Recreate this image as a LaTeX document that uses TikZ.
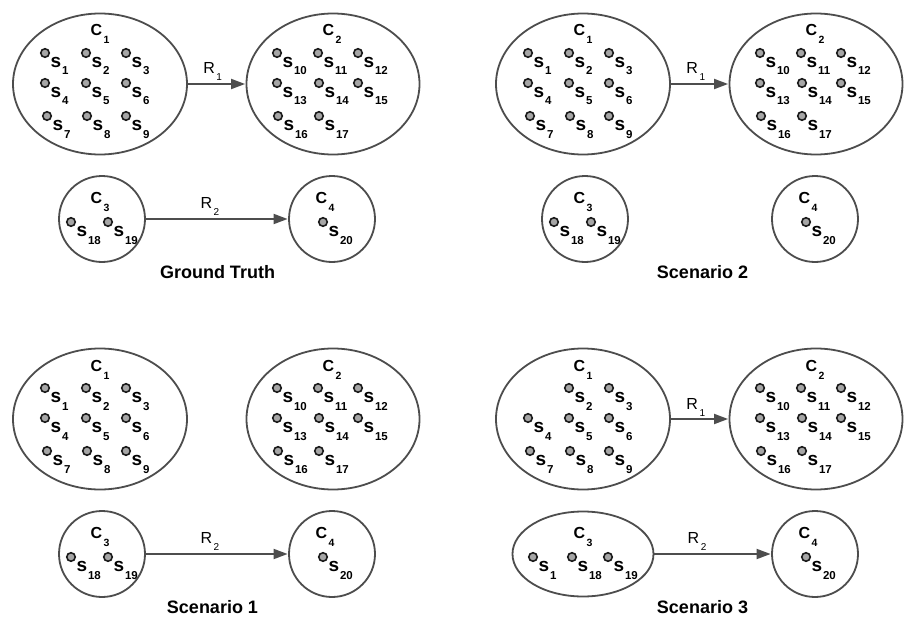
\documentclass[tikz,border=0pt]{standalone}
\usepackage{fontspec}
\setmainfont{Liberation Sans}
\usetikzlibrary{shapes.geometric,arrows.meta}
\definecolor{edgegray}{HTML}{4D4D4D}
\definecolor{dotfill}{HTML}{A6A6A6}
\definecolor{dotline}{HTML}{1A1A1A}
\newcommand{\ssubs}[2]{\textbf{#1}\hspace{0.8pt}\raisebox{-8pt}{\fontsize{11.5}{12}\selectfont\textbf{#2}}}
\newcommand{\csubs}[1]{\textbf{C}\hspace{1.5pt}\raisebox{-8pt}{\fontsize{10.5}{11}\selectfont\textbf{#1}}}
\newcommand{\rsubs}[1]{R\hspace{1.5pt}\raisebox{-7pt}{\fontsize{10}{10}\selectfont #1}}
\tikzset{
  clus/.style={ellipse,draw=edgegray,line width=1.8pt,inner sep=0pt},
  sdot/.style={circle,draw=dotline,fill=dotfill,line width=1.6pt,minimum size=8.5pt,inner sep=0pt},
  slab/.style={anchor=base west,inner sep=0pt,font=\fontsize{19}{19}\selectfont},
  clab/.style={anchor=base,inner sep=0pt,font=\fontsize{16}{16}\selectfont},
  rlab/.style={anchor=base,inner sep=0pt,font=\fontsize{16}{16}\selectfont},
  ttl/.style={anchor=base,inner sep=0pt,font=\fontsize{18}{18}\selectfont\bfseries},
  arr/.style={draw=edgegray,line width=1.8pt,-{Triangle[length=14pt,width=10pt]},shorten >=0.5pt}
}
% #1 name, #2 x, #3 y, #4 number
\newcommand{\sdotnode}[4]{%
  \node[sdot] (#1) at (#2,#3) {};
  \node[slab] (#1l) at ([xshift=5.5pt,yshift=-14pt]#1.center) {\ssubs{s}{#4}};}
% top row clusters: #1 prefix, #2 include s1 (1/0)
\newcommand{\toprow}[2]{%
  \node[clus,minimum width=174pt,minimum height=141pt] (#1c1) at (100,84) {};
  \node[clus,minimum width=173pt,minimum height=141pt] (#1c2) at (333,84) {};
  \node[clab] (#1c1l) at (100,36) {\csubs{1}};
  \node[clab] (#1c2l) at (332,36) {\csubs{2}};
  \ifnum#2=1 \sdotnode{#1s1}{45}{53}{1}\fi
  \sdotnode{#1s2}{86}{53}{2}
  \sdotnode{#1s3}{126}{53}{3}
  \sdotnode{#1s4}{45}{83}{4}
  \sdotnode{#1s5}{86}{83}{5}
  \sdotnode{#1s6}{126}{83}{6}
  \sdotnode{#1s7}{47}{116}{7}
  \sdotnode{#1s8}{87}{116}{8}
  \sdotnode{#1s9}{126}{116}{9}
  \sdotnode{#1s10}{277}{53}{10}
  \sdotnode{#1s11}{318}{53}{11}
  \sdotnode{#1s12}{358}{53}{12}
  \sdotnode{#1s13}{277}{83}{13}
  \sdotnode{#1s14}{319}{83}{14}
  \sdotnode{#1s15}{358}{83}{15}
  \sdotnode{#1s16}{278}{116}{16}
  \sdotnode{#1s17}{319}{116}{17}
}
\newcommand{\cfour}[1]{%
  \node[clus,circle,minimum size=86pt] (#1c4) at (332,219) {};
  \node[clab] (#1c4l) at (325,203) {\csubs{4}};
  \sdotnode{#1s20}{323}{222}{20}
}
\newcommand{\cthree}[1]{%
  \node[clus,circle,minimum size=86pt] (#1c3) at (102,219) {};
  \node[clab] (#1c3l) at (100,203) {\csubs{3}};
  \sdotnode{#1s18}{71}{222}{18}
  \sdotnode{#1s19}{108}{222}{19}
}
\begin{document}
\begin{tikzpicture}[x=1pt,y=-1pt]
\useasboundingbox[fill=white] (0,0) rectangle (911,618);

% Ground Truth
\begin{scope}
  \toprow{g}{1}
  \cthree{g}
  \cfour{g}
  \draw[arr] (gc1) -- node[rlab,pos=0.5,xshift=-4pt,yshift=10pt] {\rsubs{1}} (gc2);
  \draw[arr] (gc3) -- (gc4);
  \node[rlab] (gr2) at (210,208) {\rsubs{2}};
  \node[ttl] (gt) at (217.5,278) {Ground Truth};
\end{scope}

% Scenario 2
\begin{scope}[shift={(483,0)}]
  \toprow{b}{1}
  \cthree{b}
  \cfour{b}
  \draw[arr] (bc1) -- node[rlab,pos=0.5,xshift=-4pt,yshift=10pt] {\rsubs{1}} (bc2);
  \node[ttl] (bt) at (219.5,278) {Scenario 2};
\end{scope}

% Scenario 1
\begin{scope}[shift={(0,335)}]
  \toprow{a}{1}
  \cthree{a}
  \cfour{a}
  \draw[arr] (ac3) -- (ac4);
  \node[rlab] (ar2) at (210,208) {\rsubs{2}};
  \node[ttl] (at) at (212.5,278) {Scenario 1};
\end{scope}

% Scenario 3
\begin{scope}[shift={(483,335)}]
  \toprow{d}{0}
  \node[clus,minimum width=141pt,minimum height=85pt] (dc3) at (100,219) {};
  \node[clab] (dc3l) at (100,203) {\csubs{3}};
  \sdotnode{ds1}{50}{222}{1}
  \sdotnode{ds18}{89}{222}{18}
  \sdotnode{ds19}{125}{222}{19}
  \cfour{d}
  \draw[arr] (dc1) -- node[rlab,pos=0.5,xshift=-4pt,yshift=10pt] {\rsubs{1}} (dc2);
  \draw[arr] (dc3) -- (dc4);
  \node[rlab] (dr2) at (214,208) {\rsubs{2}};
  \node[ttl] (dt) at (219.5,278) {Scenario 3};
\end{scope}
\end{tikzpicture}
\end{document}
